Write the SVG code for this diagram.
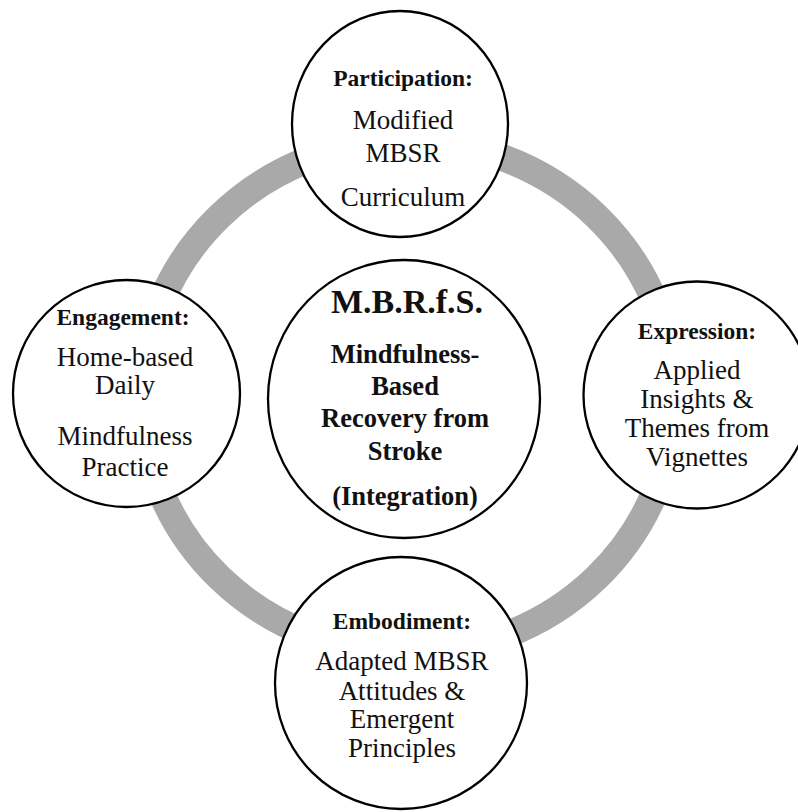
<svg xmlns="http://www.w3.org/2000/svg" width="798" height="812" viewBox="0 0 798 812">
<style>
  .ring { fill: none; stroke: #a9a9a9; stroke-width: 27; }
  .node circle, .node ellipse { fill: #ffffff; stroke: #000000; stroke-width: 2.3; }
  text { font-family: "Liberation Serif", "Times New Roman", serif; fill: #111111; text-anchor: middle; }
  .h { font-weight: bold; font-size: 23.5px; }
  .b { font-size: 27px; }
  .t { font-weight: bold; font-size: 34px; }
  .s { font-weight: bold; font-size: 26.5px; }
</style>
<rect width="798" height="812" fill="#ffffff"/>
<g id="connectors">
  <ellipse class="ring" cx="408" cy="397" rx="266" ry="256"/>
</g>
<g id="participation" class="node">
  <ellipse cx="400" cy="124" rx="108" ry="113"/>
  <text class="h" x="403" y="86">Participation:</text>
  <text class="b" x="403" y="129">Modified</text>
  <text class="b" x="403" y="162">MBSR</text>
  <text class="b" x="403" y="206">Curriculum</text>
</g>
<g id="engagement" class="node">
  <circle cx="126.5" cy="393.5" r="113.5"/>
  <text class="h" x="123" y="325">Engagement:</text>
  <text class="b" x="125" y="366">Home-based</text>
  <text class="b" x="125" y="394">Daily</text>
  <text class="b" x="125" y="445">Mindfulness</text>
  <text class="b" x="125" y="476">Practice</text>
</g>
<g id="expression" class="node">
  <circle cx="697" cy="395" r="113.5"/>
  <text class="h" x="697" y="339">Expression:</text>
  <text class="b" x="697" y="379">Applied</text>
  <text class="b" x="697" y="408">Insights &amp;</text>
  <text class="b" x="697" y="437">Themes from</text>
  <text class="b" x="697" y="466">Vignettes</text>
</g>
<g id="embodiment" class="node">
  <circle cx="401" cy="683" r="126"/>
  <text class="h" x="402" y="629">Embodiment:</text>
  <text class="b" x="402" y="670">Adapted MBSR</text>
  <text class="b" x="402" y="700">Attitudes &amp;</text>
  <text class="b" x="402" y="728">Emergent</text>
  <text class="b" x="402" y="757">Principles</text>
</g>
<g id="mbrfs" class="node">
  <ellipse cx="404" cy="399" rx="136" ry="139"/>
  <text class="t" x="407" y="313">M.B.R.f.S.</text>
  <text class="s" x="405" y="363">Mindfulness-</text>
  <text class="s" x="405" y="395">Based</text>
  <text class="s" x="405" y="427">Recovery from</text>
  <text class="s" x="405" y="460">Stroke</text>
  <text class="s" x="405" y="505">(Integration)</text>
</g>
</svg>
